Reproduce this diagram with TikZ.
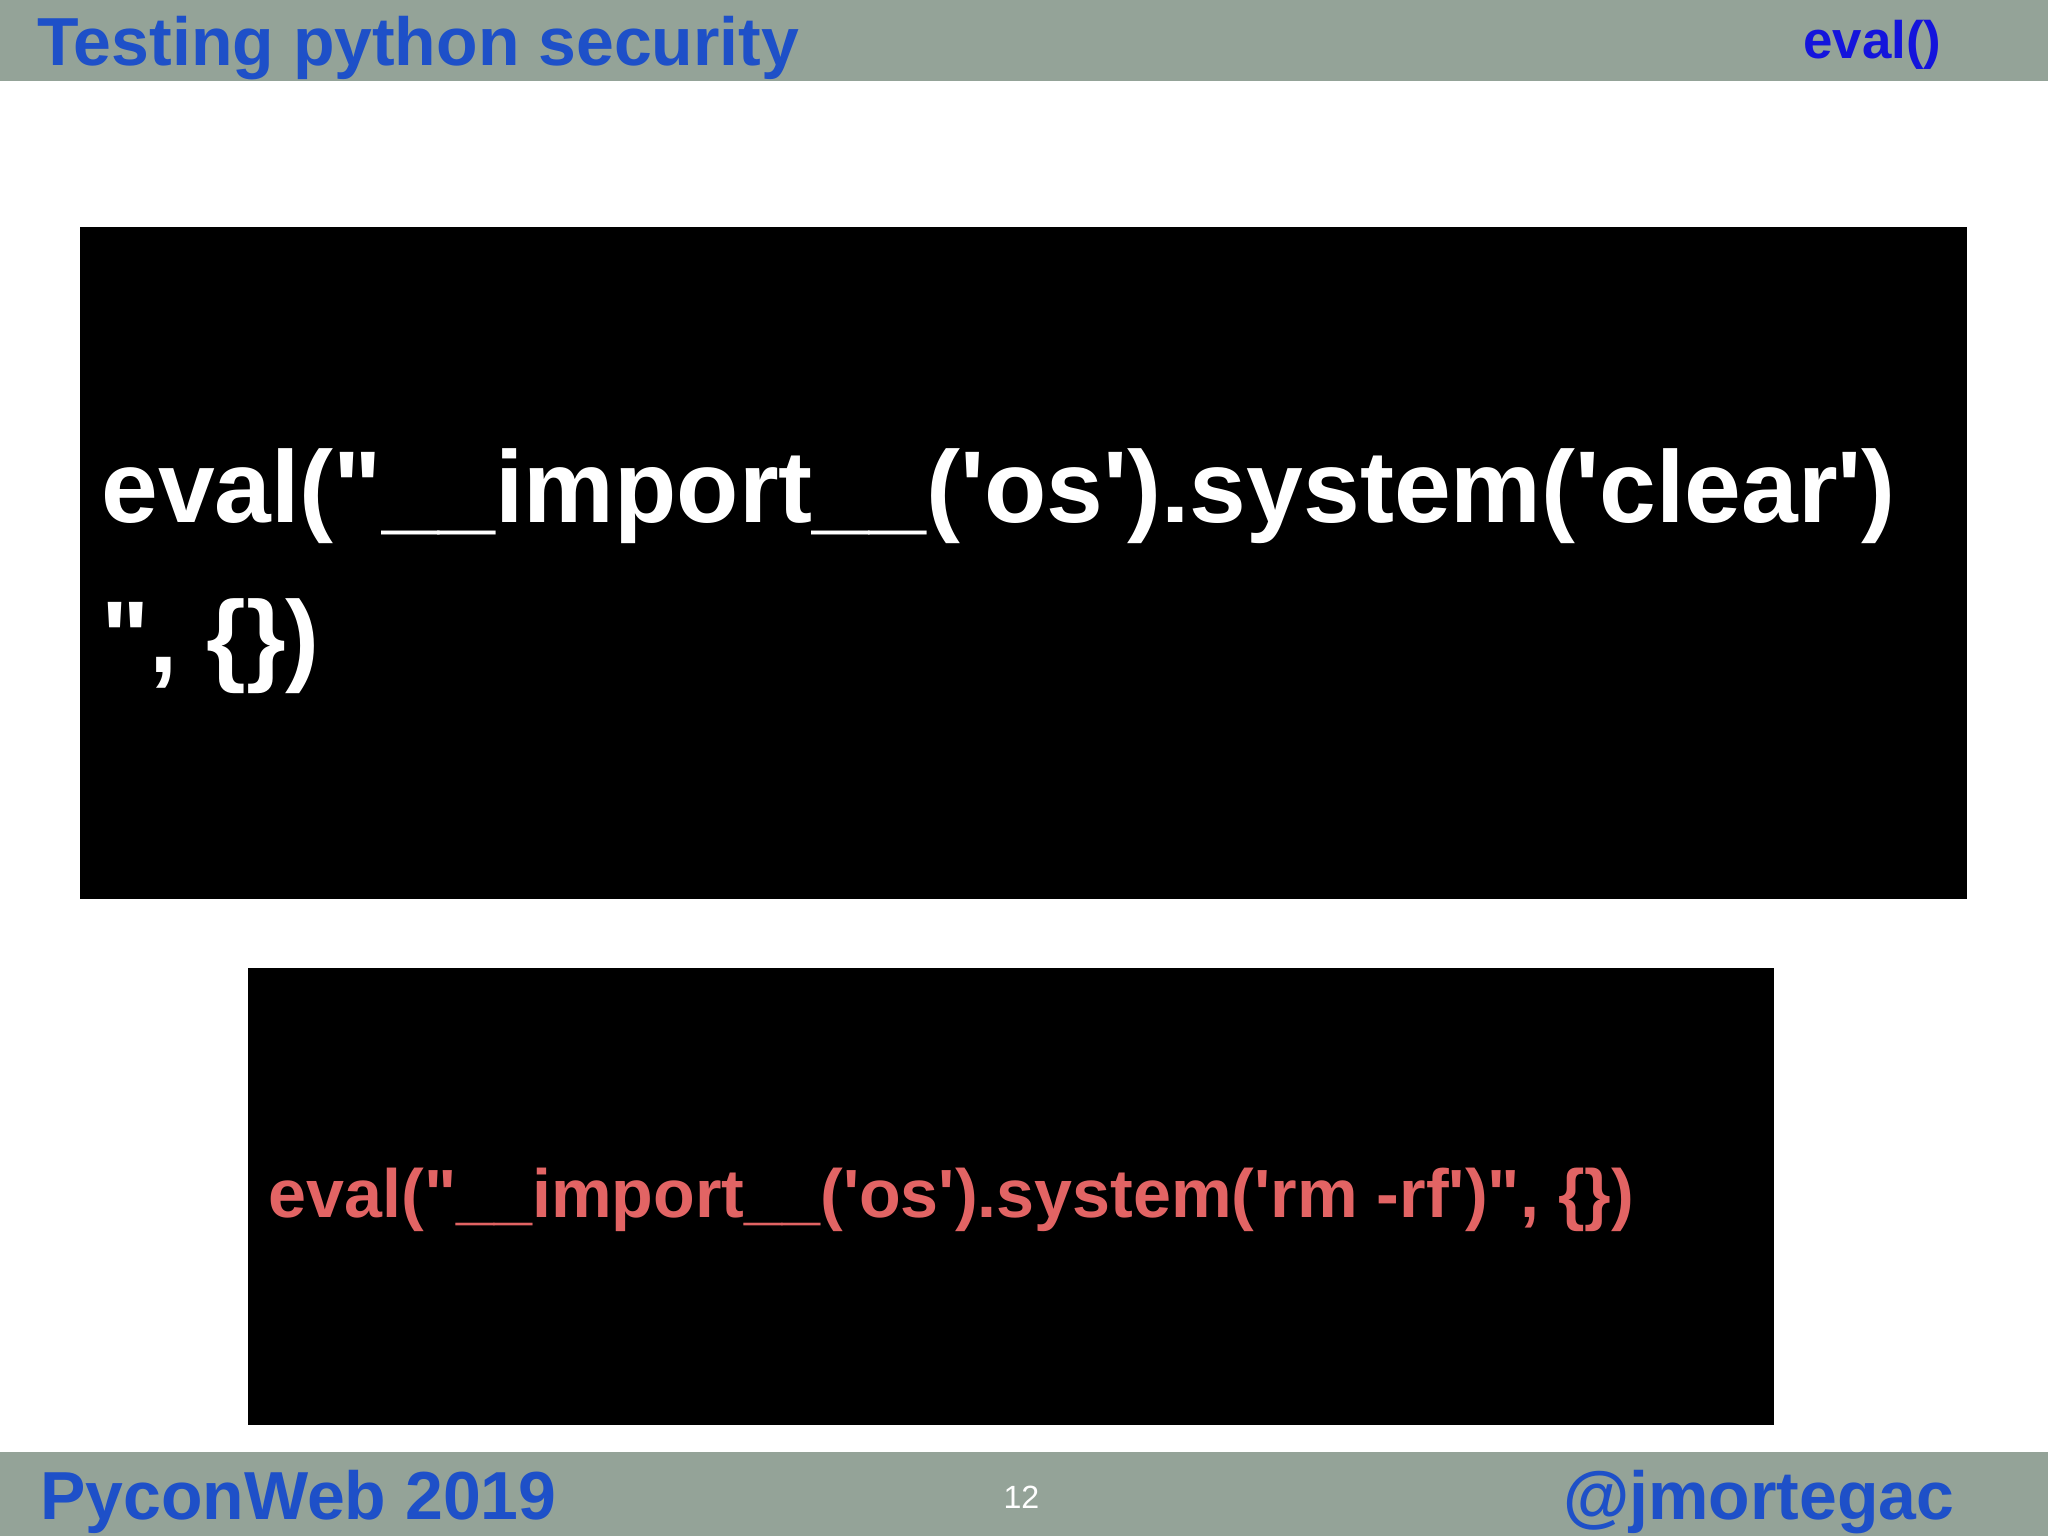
\documentclass[tikz,border=0pt]{standalone}
\usepackage{fontspec}
\setmainfont{Liberation Sans}[Ligatures=TeXOff]
\definecolor{bar}{RGB}{148,163,152}
\definecolor{ttl}{RGB}{30,80,200}
\definecolor{evb}{RGB}{20,20,220}
\definecolor{red}{RGB}{226,100,100}
\tikzset{txt/.style={inner sep=0pt,font=\bfseries}}
\begin{document}
\begin{tikzpicture}[x=0.01cm,y=-0.01cm]
\useasboundingbox (0,0) rectangle (1568,1176);
\fill[white] (0,0) rectangle (1568,1176);
\fill[bar] (0,0) rectangle (1568,62);
\fill[bar] (0,1112) rectangle (1568,1176);
\node[txt,anchor=base west,text=ttl,font=\bfseries\fontsize{14.8pt}{16pt}\selectfont] (title) at (28,50) {Testing python security};
\node[txt,anchor=base east,text=evb,font=\bfseries\fontsize{11.5pt}{13pt}\selectfont] (ev) at (1487,45) {eval()};
\fill[black] (61,174) rectangle (1506,688);
\node[txt,anchor=base west,text=white,font=\bfseries\fontsize{22.2pt}{33pt}\selectfont] (l1) at (77,400) {eval("\_\_import\_\_('os').system('clear')};
\node[txt,anchor=base west,text=white,font=\bfseries\fontsize{22.2pt}{33pt}\selectfont] (l2) at (77,515) {", \{\})};
\fill[black] (190,741) rectangle (1358,1091);
\node[txt,anchor=base west,text=red,font=\bfseries\fontsize{14.85pt}{16pt}\selectfont] (l3) at (205,932) {eval("\_\_import\_\_('os').system('rm -rf')", \{\})};
\node[txt,anchor=base west,text=ttl,font=\bfseries\fontsize{14.8pt}{16pt}\selectfont] (pw) at (30,1163) {PyconWeb 2019};
\node[inner sep=0pt,anchor=base,text=white,font=\fontsize{7pt}{8pt}\selectfont] (pg) at (782,1155) {12};
\node[txt,anchor=base east,text=ttl,font=\bfseries\fontsize{14.8pt}{16pt}\selectfont] (tw) at (1497,1163) {@jmortegac};
\end{tikzpicture}
\end{document}
